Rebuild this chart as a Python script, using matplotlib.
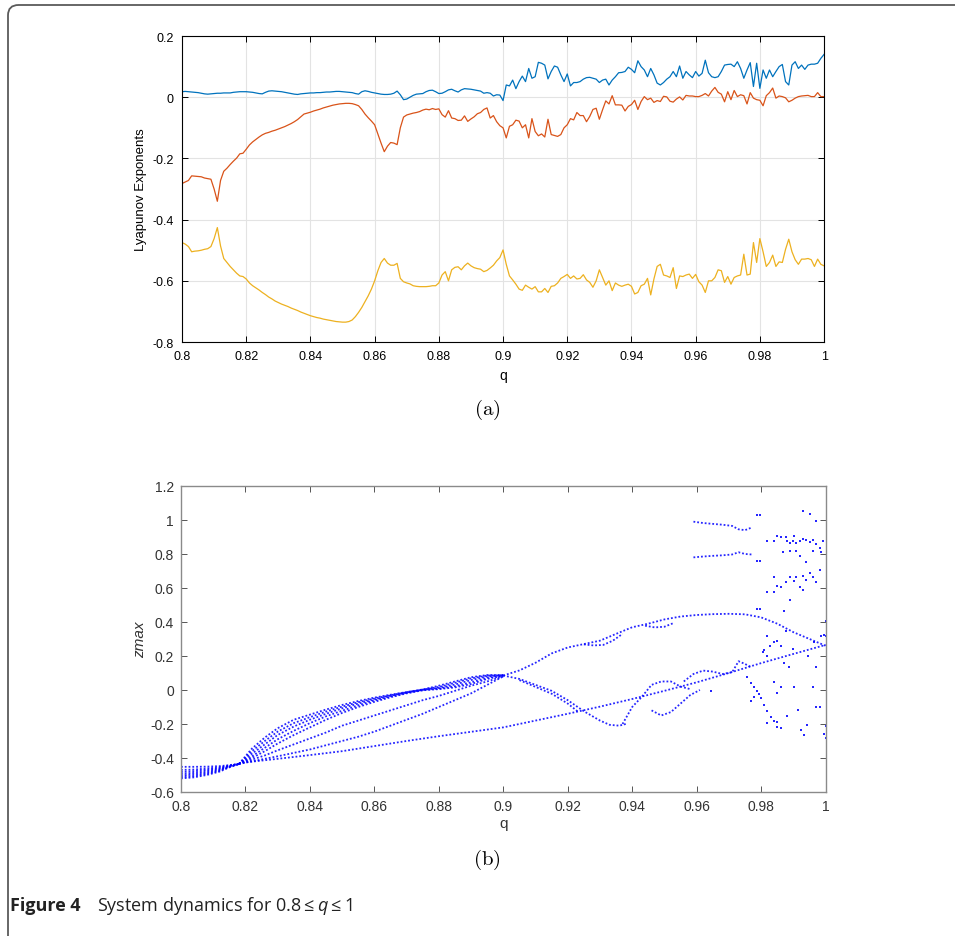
import numpy as np
import matplotlib
matplotlib.use('Agg')
import matplotlib.pyplot as plt
from matplotlib.patches import FancyBboxPatch
from matplotlib.ticker import FuncFormatter

plt.rcParams['font.family'] = ['Liberation Sans', 'DejaVu Sans']
plt.rcParams['mathtext.rm'] = 'Open Sans'
plt.rcParams['mathtext.it'] = 'Open Sans:italic'

# ---------------- (a) Lyapunov exponents, q = 0.8 ... 1 step 0.001
q_le = np.round(np.linspace(0.8, 1.0, 201), 3)

le1 = [0.018, 0.019, 0.018, 0.017, 0.016, 0.015,
       0.013, 0.011, 0.010, 0.011, 0.012, 0.013, 0.013, 0.014, 0.014, 0.014,
       0.016, 0.017, 0.018, 0.018, 0.018, 0.017, 0.016, 0.014, 0.012, 0.011,
       0.016, 0.020, 0.021, 0.020, 0.019, 0.018, 0.016, 0.014, 0.012, 0.010,
       0.009, 0.011, 0.012, 0.013, 0.014, 0.014, 0.015, 0.015, 0.016, 0.017,
       0.017, 0.018, 0.019, 0.019, 0.018, 0.017, 0.016, 0.015, 0.012, 0.010,
       0.018, 0.021, 0.019, 0.016, 0.014, 0.012, 0.010, 0.009, 0.009, 0.010,
       0.013, 0.020, 0.008, -0.008, -0.006, 0.000, 0.006, 0.010, 0.011, 0.012,
       0.018, 0.022, 0.023, 0.018, 0.012,
       0.013, 0.018, 0.024, 0.026, 0.021, 0.017, 0.024, 0.028, 0.027, 0.026,
       0.024, 0.022, 0.020, 0.013, 0.015, 0.013, 0.004, 0.008, 0.007, -0.011,
       0.040, 0.037, 0.056, 0.028, 0.051, 0.069, 0.051, 0.094, 0.062, 0.067,
       0.114, 0.111, 0.105, 0.060, 0.084, 0.102, 0.098, 0.073, 0.051, 0.076,
       0.037, 0.048, 0.048, 0.051, 0.059, 0.064, 0.065, 0.062, 0.059, 0.048,
       0.056, 0.059, 0.040, 0.056, 0.067, 0.080, 0.081, 0.084, 0.098, 0.091,
       0.080, 0.119, 0.100, 0.089, 0.067, 0.094, 0.073, 0.046, 0.040, 0.048,
       0.059, 0.067, 0.084, 0.067, 0.102, 0.062, 0.084, 0.073, 0.064, 0.084,
       0.069, 0.078, 0.121, 0.080, 0.067, 0.064, 0.067, 0.084, 0.105, 0.107,
       0.108, 0.100, 0.116, 0.094, 0.062, 0.089, 0.113, 0.035, 0.111, 0.029,
       0.089, 0.062, 0.089, 0.067, 0.084, 0.100, 0.107, 0.051, 0.040, 0.105,
       0.116, 0.094, 0.105, 0.091, 0.105, 0.108, 0.108, 0.111, 0.127, 0.140]

le2 = [-0.282, -0.277, -0.272, -0.257, -0.258, -0.259, -0.260, -0.264, -0.266, -0.268,
       -0.300, -0.340, -0.272, -0.242, -0.232, -0.220, -0.209, -0.199, -0.185, -0.183,
       -0.170, -0.156, -0.146, -0.138, -0.130, -0.123, -0.118, -0.115, -0.111, -0.108,
       -0.104, -0.100, -0.096, -0.091, -0.086, -0.080, -0.073, -0.064, -0.055, -0.052,
       -0.049, -0.045, -0.042, -0.039, -0.035, -0.032, -0.029, -0.026, -0.024, -0.022,
       -0.021, -0.020, -0.020, -0.021, -0.024, -0.028, -0.040, -0.055, -0.067, -0.078,
       -0.090, -0.120, -0.150, -0.178, -0.160, -0.148, -0.150, -0.155, -0.100, -0.065,
       -0.058, -0.055, -0.052, -0.050, -0.047, -0.042, -0.039, -0.041, -0.037, -0.040,
       -0.038,
       -0.057, -0.065, -0.044, -0.068, -0.070, -0.076, -0.075, -0.061, -0.079, -0.071,
       -0.064, -0.054, -0.050, -0.040, -0.035, -0.068, -0.060, -0.080, -0.093, -0.100,
       -0.133, -0.095, -0.090, -0.075, -0.078, -0.100, -0.090, -0.133, -0.070, -0.112,
       -0.126, -0.120, -0.130, -0.072, -0.122, -0.125, -0.128, -0.122, -0.100, -0.090,
       -0.070, -0.074, -0.050, -0.060, -0.060, -0.080, -0.063, -0.040, -0.036, -0.072,
       -0.041, -0.012, -0.022, 0.005, -0.025, -0.025, -0.026, -0.045, -0.030, -0.024,
       -0.010, -0.040, -0.014, 0.002, -0.008, -0.003, -0.017, -0.011, -0.014, 0.003,
       0.001, -0.013, -0.016, -0.006, 0.001, -0.009, 0.006, 0.004, 0.004, 0.002,
       0.002, 0.006, 0.012, 0.004, 0.020, 0.032, 0.016, 0.010, -0.015, 0.018,
       -0.008, 0.022, 0.002, 0.008, 0.005, -0.022, 0.015, -0.003, -0.008, -0.010,
       -0.028, 0.005, 0.015, 0.030, -0.003, 0.004, 0.002, -0.002, -0.015, -0.010,
       -0.003, 0.002, 0.004, 0.005, 0.006, 0.002, 0.002, 0.015, 0.002, 0.002]

le3 = [-0.475, -0.480, -0.488, -0.505, -0.503, -0.502, -0.500, -0.497, -0.495, -0.488,
       -0.462, -0.426, -0.486, -0.527, -0.540, -0.553, -0.564, -0.575, -0.584, -0.586,
       -0.594, -0.607, -0.616, -0.623, -0.630, -0.638, -0.645, -0.653, -0.659, -0.666,
       -0.671, -0.676, -0.680, -0.684, -0.689, -0.693, -0.697, -0.702, -0.706, -0.710,
       -0.714, -0.717, -0.720, -0.722, -0.725, -0.727, -0.729, -0.731, -0.733, -0.734,
       -0.735, -0.735, -0.733, -0.728, -0.717, -0.703, -0.687, -0.668, -0.649, -0.627,
       -0.600, -0.567, -0.540, -0.527, -0.542, -0.549, -0.549, -0.543, -0.592, -0.603,
       -0.607, -0.610, -0.616, -0.618, -0.619, -0.619, -0.619, -0.618, -0.616, -0.616,
       -0.607,
       -0.581, -0.570, -0.600, -0.564, -0.556, -0.554, -0.564, -0.551, -0.542, -0.551,
       -0.557, -0.560, -0.562, -0.570, -0.566, -0.558, -0.549, -0.535, -0.524, -0.499,
       -0.546, -0.584, -0.597, -0.611, -0.627, -0.631, -0.614, -0.621, -0.627, -0.619,
       -0.636, -0.636, -0.625, -0.638, -0.618, -0.616, -0.607, -0.592, -0.586, -0.579,
       -0.592, -0.584, -0.594, -0.592, -0.580, -0.597, -0.605, -0.621, -0.600, -0.564,
       -0.589, -0.614, -0.600, -0.632, -0.607, -0.614, -0.618, -0.614, -0.611, -0.618,
       -0.643, -0.638, -0.616, -0.611, -0.592, -0.646, -0.594, -0.553, -0.546, -0.581,
       -0.584, -0.589, -0.557, -0.625, -0.584, -0.586, -0.581, -0.578, -0.592, -0.579,
       -0.603, -0.614, -0.638, -0.600, -0.600, -0.589, -0.564, -0.567, -0.605, -0.586,
       -0.611, -0.589, -0.584, -0.581, -0.513, -0.581, -0.578, -0.475, -0.540, -0.462,
       -0.505, -0.553, -0.540, -0.516, -0.553, -0.538, -0.540, -0.497, -0.464, -0.505,
       -0.531, -0.546, -0.529, -0.529, -0.527, -0.531, -0.553, -0.529, -0.546, -0.551]

# ---------------- (b) bifurcation diagram, branches of zmax
q_band = [0.800, 0.804, 0.808, 0.812, 0.815, 0.818]
band1 = [-0.452, -0.452, -0.451, -0.448, -0.442, -0.435]
band2 = [-0.470, -0.468, -0.462, -0.455, -0.445, -0.435]
band3 = [-0.482, -0.478, -0.470, -0.460, -0.447, -0.435]
band4 = [-0.493, -0.488, -0.478, -0.465, -0.449, -0.435]
band5 = [-0.503, -0.497, -0.486, -0.470, -0.451, -0.435]
band6 = [-0.512, -0.506, -0.493, -0.475, -0.453, -0.435]
band7 = [-0.520, -0.514, -0.500, -0.480, -0.455, -0.435]

q_fan = [0.818, 0.822, 0.826, 0.83, 0.835, 0.84, 0.845, 0.85, 0.855,
         0.86, 0.865, 0.87, 0.875, 0.88, 0.885, 0.89, 0.895, 0.9]
top1 = [-0.435, -0.345, -0.280, -0.225, -0.175, -0.145, -0.115, -0.088, -0.065,
        -0.045, -0.028, -0.012, 0.003, 0.025, 0.050, 0.075, 0.088, 0.088]
top2 = [-0.435, -0.360, -0.300, -0.245, -0.195, -0.160, -0.127, -0.098, -0.072,
        -0.050, -0.031, -0.013, 0.002, 0.018, 0.042, 0.068, 0.085, 0.087]
top3 = [-0.435, -0.375, -0.320, -0.265, -0.215, -0.175, -0.140, -0.108, -0.080,
        -0.056, -0.034, -0.015, 0.001, 0.012, 0.032, 0.058, 0.080, 0.086]
top4 = [-0.435, -0.390, -0.340, -0.290, -0.240, -0.195, -0.155, -0.122, -0.090,
        -0.062, -0.038, -0.017, 0.000, 0.008, 0.022, 0.045, 0.072, 0.085]
top5 = [-0.435, -0.400, -0.360, -0.315, -0.265, -0.220, -0.175, -0.135, -0.100,
        -0.070, -0.043, -0.020, -0.002, 0.005, 0.015, 0.035, 0.065, 0.084]
fan4 = [-0.435, -0.410, -0.385, -0.355, -0.320, -0.285, -0.250, -0.210, -0.180,
        -0.150, -0.120, -0.090, -0.060, -0.035, -0.005, 0.025, 0.050, 0.080]
fan5 = [-0.435, -0.420, -0.405, -0.390, -0.370, -0.350, -0.325, -0.300, -0.275,
        -0.245, -0.210, -0.175, -0.140, -0.100, -0.060, -0.020, 0.030, 0.080]

q_low = [0.818, 0.83, 0.84, 0.85, 0.86, 0.87, 0.88, 0.89, 0.9, 0.91,
         0.92, 0.93, 0.94, 0.95, 0.96, 0.97, 0.98, 0.99, 1.0]
z_low = [-0.430, -0.405, -0.383, -0.360, -0.330, -0.300, -0.272, -0.246, -0.220, -0.180,
         -0.140, -0.098, -0.053, -0.005, 0.045, 0.100, 0.158, 0.212, 0.265]

q_up = [0.9, 0.905, 0.91, 0.915, 0.92, 0.925, 0.93, 0.935, 0.94, 0.945, 0.95,
        0.955, 0.96, 0.965, 0.97, 0.975, 0.98, 0.985, 0.99, 0.995, 1.0]
z_up = [0.085, 0.115, 0.160, 0.215, 0.250, 0.270, 0.290, 0.330, 0.369, 0.390, 0.415,
        0.432, 0.441, 0.446, 0.448, 0.445, 0.427, 0.390, 0.340, 0.300, 0.260]
q_up2 = [0.925, 0.928, 0.931, 0.934, 0.937]
z_up2 = [0.268, 0.262, 0.265, 0.290, 0.330]
q_up3 = [0.944, 0.947, 0.950, 0.953]
z_up3 = [0.378, 0.368, 0.372, 0.395]

q_dn = [0.9, 0.905, 0.91, 0.915, 0.92, 0.925, 0.93, 0.933, 0.936, 0.938]
z_dn = [0.085, 0.065, 0.030, -0.005, -0.060, -0.125, -0.180, -0.205, -0.210, -0.200]
q_dn2 = [0.905, 0.91, 0.915, 0.92, 0.923]
z_dn2 = [0.058, 0.018, -0.022, -0.080, -0.125]

q_rise = [0.937, 0.940, 0.943, 0.946, 0.949, 0.952, 0.955, 0.958]
z_rise = [-0.200, -0.100, -0.040, 0.030, 0.050, 0.050, 0.020, 0.005]
q_rise2 = [0.946, 0.949, 0.952, 0.955, 0.958, 0.961]
z_rise2 = [-0.120, -0.150, -0.130, -0.080, -0.030, 0.000]
q_mid = [0.956, 0.959, 0.962, 0.965, 0.968, 0.971, 0.973, 0.975, 0.977]
z_mid = [0.050, 0.094, 0.114, 0.108, 0.094, 0.104, 0.169, 0.153, 0.133]

q_top = [0.959, 0.962, 0.965, 0.968, 0.971, 0.973, 0.975, 0.977]
z_top1 = [0.990, 0.982, 0.977, 0.972, 0.965, 0.945, 0.940, 0.955]
z_top2 = [0.780, 0.785, 0.789, 0.792, 0.797, 0.810, 0.800, 0.797]

# scattered (chaotic) maxima
q_chaos = [0.9788, 0.9796, 0.9930, 0.9951, 0.9971, 0.9819, 0.9840, 0.9850, 0.9861, 0.9878,
           0.9902, 0.9879, 0.9889, 0.9900, 0.9909, 0.9920, 0.9930, 0.9940, 0.9951, 0.9961,
           0.9971, 0.9982, 0.9992, 0.9869, 0.9889, 0.9909, 0.9920, 0.9940, 0.9961, 0.9985,
           0.9788, 0.9796, 0.9840, 0.9850, 0.9861, 0.9878, 0.9889, 0.9902, 0.9909, 0.9920,
           0.9930, 0.9940, 0.9951, 0.9961, 0.9971, 0.9982, 0.9930, 0.9889, 0.9819, 0.9840,
           0.9788, 0.9796, 0.9871, 0.9819, 0.9828, 0.9840, 0.9850, 0.9861, 0.9878, 0.9900,
           0.9944, 0.9964, 0.9971, 0.9985, 0.9995, 0.9809, 0.9807, 0.9817, 0.9871, 0.9887,
           0.9757, 0.9768, 0.9778, 0.9788, 0.9793, 0.9799, 0.9809, 0.9819, 0.9830, 0.9840,
           0.9850, 0.9861, 0.9768, 0.9778, 0.9840, 0.9850, 0.9861, 0.9902, 0.9961, 0.9969,
           0.9982, 0.9913, 0.9881, 0.9819, 0.9850, 0.9923, 0.9933, 0.9941, 0.9995, 1.0000,
           1.0000, 0.9643, 1.0000, 1.0000]
z_chaos = [1.031, 1.031, 1.051, 1.033, 0.992, 0.874, 0.878, 0.904, 0.902, 0.902,
           0.904, 0.874, 0.863, 0.878, 0.863, 0.878, 0.888, 0.882, 0.869, 0.882,
           0.859, 0.835, 0.878, 0.810, 0.816, 0.816, 0.790, 0.751, 0.816, 0.810,
           0.761, 0.761, 0.663, 0.614, 0.608, 0.637, 0.667, 0.639, 0.667, 0.608,
           0.673, 0.647, 0.686, 0.667, 0.637, 0.706, 0.590, 0.529, 0.578, 0.574,
           0.476, 0.476, 0.463, 0.316, 0.261, 0.280, 0.290, 0.261, 0.349, 0.241,
           0.202, 0.280, 0.133, 0.320, 0.325, 0.237, 0.221, 0.202, 0.157, 0.133,
           0.074, 0.041, 0.020, -0.008, -0.024, -0.047, -0.086, -0.122, -0.161, -0.184,
           -0.220, -0.226, -0.067, -0.043, 0.049, -0.018, 0.016, 0.016, 0.016, -0.102,
           -0.102, -0.118, -0.155, -0.194, -0.190, -0.235, -0.263, -0.204, -0.259, -0.282,
           -0.210, -0.008, 0.404, 0.320]


def matlab_fmt(v, pos):
    if abs(v) < 1e-9:
        return '0'
    return '%g' % round(v, 2)


fig = plt.figure(figsize=(9.55, 9.37), dpi=100)

# ---- panel (a)
ax1 = fig.add_axes([0.1906, 0.6339, 0.6723, 0.3266])
ax1.plot(q_le, le1, color=(0, 0.447, 0.741), lw=0.9)
ax1.plot(q_le, le2, color=(0.85, 0.325, 0.098), lw=0.9)
ax1.plot(q_le, le3, color=(0.929, 0.694, 0.125), lw=0.9)
ax1.set_xlim(0.8, 1.0)
ax1.set_ylim(-0.8, 0.2)
ax1.set_xticks(np.arange(0.8, 1.001, 0.02))
ax1.set_yticks(np.arange(-0.8, 0.201, 0.2))
ax1.xaxis.set_major_formatter(FuncFormatter(matlab_fmt))
ax1.yaxis.set_major_formatter(FuncFormatter(matlab_fmt))
ax1.grid(True, color='#e3e3e3', lw=0.8)
ax1.set_axisbelow(True)
ax1.tick_params(direction='in', top=True, right=True, length=4, width=0.7,
                labelsize=9, pad=6)
for s in ax1.spines.values():
    s.set_linewidth(0.8)
ax1.set_xlabel('q', fontsize=10, labelpad=4)
ax1.set_ylabel('Lyapunov Exponents', fontsize=9.5, labelpad=4)
fig.text(487 / 955, 1 - 410 / 937, r'$\mathrm{(a)}$', math_fontfamily='cm',
         fontsize=15, ha='center', va='center')

# ---- panel (b)
ax2 = fig.add_axes([0.1895, 0.1537, 0.675, 0.3266])
dot = dict(color='#0000ff', lw=1.3, ls=(0, (1, 1.1)), alpha=0.85)
for z in [band1, band2, band3, band4, band5, band6, band7]:
    ax2.plot(q_band, z, **dot)
for z in [top1, top2, top3, top4, top5, fan4, fan5]:
    ax2.plot(q_fan, z, **dot)
ax2.plot(q_low, z_low, **dot)
ax2.plot(q_up, z_up, **dot)
ax2.plot(q_up2, z_up2, **dot)
ax2.plot(q_up3, z_up3, **dot)
ax2.plot(q_dn, z_dn, **dot)
ax2.plot(q_dn2, z_dn2, **dot)
ax2.plot(q_rise, z_rise, **dot)
ax2.plot(q_rise2, z_rise2, **dot)
ax2.plot(q_mid, z_mid, **dot)
ax2.plot(q_top, z_top1, **dot)
ax2.plot(q_top, z_top2, **dot)
ax2.plot(q_chaos, z_chaos, 's', ms=2.0, color='#0000ff', alpha=0.85, mew=0)
ax2.set_xlim(0.8, 1.0)
ax2.set_ylim(-0.6, 1.2)
ax2.set_xticks(np.arange(0.8, 1.001, 0.02))
ax2.set_yticks(np.arange(-0.6, 1.201, 0.2))
ax2.xaxis.set_major_formatter(FuncFormatter(matlab_fmt))
ax2.yaxis.set_major_formatter(FuncFormatter(matlab_fmt))
ax2.tick_params(direction='in', top=True, right=True, length=4, width=0.7,
                labelsize=10, pad=5, colors='#555555', labelcolor='#333333')
for s in ax2.spines.values():
    s.set_linewidth(1.0)
    s.set_color('#8a8a8a')
ax2.set_xlabel('q', fontsize=11, color='#333333', labelpad=2)
ax2.set_ylabel('zmax', fontsize=11, style='italic', color='#333333', labelpad=2)
fig.text(487 / 955, 1 - 860 / 937, r'$\mathrm{(b)}$', math_fontfamily='cm',
         fontsize=15, ha='center', va='center')

# ---- caption and frame
fig.text(10 / 955, 1 - 906 / 937, 'Figure 4', family='Open Sans', weight='bold',
         fontsize=13, va='center', color='#222222')
fig.text(97 / 955, 1 - 906 / 937, r'System dynamics for $0.8 \leq q \leq 1$',
         family='Open Sans', fontsize=13, va='center', color='#222222',
         math_fontfamily='custom')
frame = FancyBboxPatch((8 / 955, -0.012), 1.1, 1 - 6 / 937 + 0.012,
                       boxstyle='round,pad=0,rounding_size=0.011',
                       transform=fig.transFigure, fill=False,
                       edgecolor='#5a5a5a', lw=1.3, clip_on=False)
fig.patches.append(frame)

fig.savefig('out.png', dpi=100)
